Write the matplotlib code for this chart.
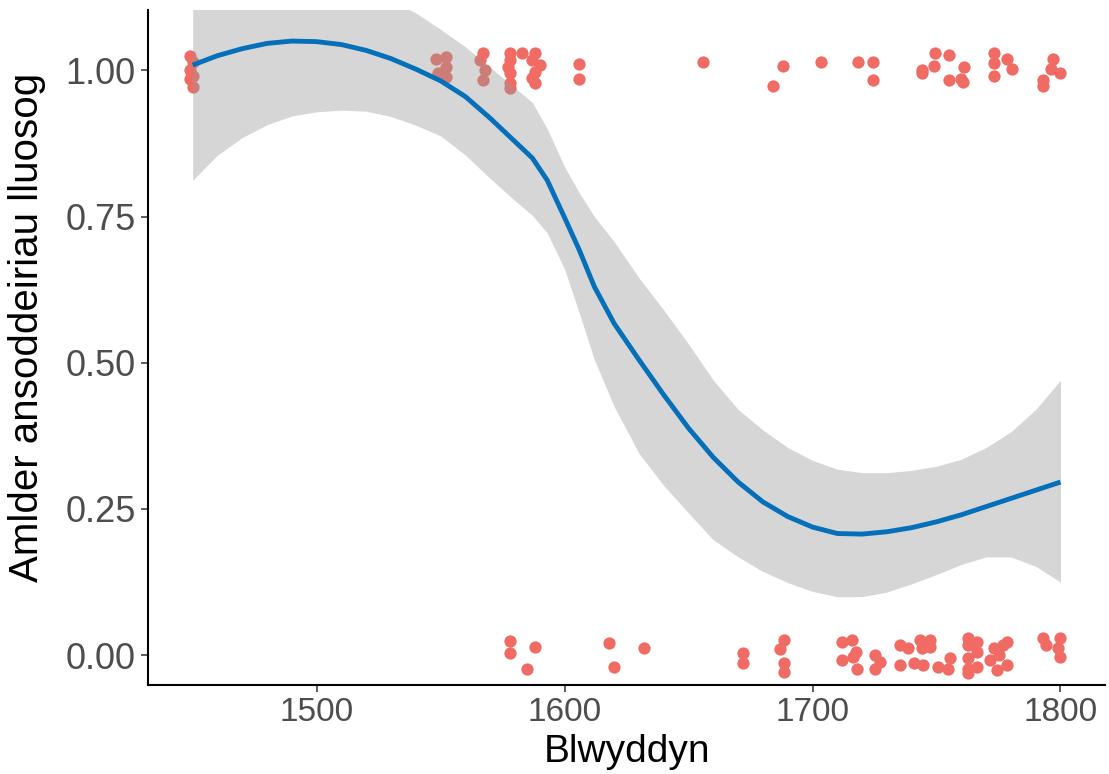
import numpy as np
import matplotlib
matplotlib.use('Agg')
import matplotlib.pyplot as plt

plt.rcParams['font.family'] = ['Liberation Sans', 'DejaVu Sans']

# loess fit
fit_year = [1450, 1460, 1470, 1480, 1490, 1500, 1510, 1520, 1530, 1540, 1550, 1560,
            1570, 1580, 1587, 1593, 1600, 1606, 1612, 1620, 1630, 1640, 1650, 1660,
            1670, 1680, 1690, 1700, 1710, 1720, 1730, 1740, 1750, 1760, 1770, 1780,
            1790, 1800]
fit_mid = [1.009, 1.025, 1.037, 1.046, 1.050, 1.049, 1.044, 1.034, 1.020, 1.002, 0.982, 0.955,
           0.918, 0.878, 0.850, 0.812, 0.748, 0.692, 0.630, 0.567, 0.505, 0.445, 0.388, 0.338,
           0.296, 0.262, 0.237, 0.219, 0.208, 0.207, 0.211, 0.218, 0.228, 0.240, 0.254, 0.268,
           0.282, 0.296]
fit_hi = [1.21, 1.205, 1.20, 1.19, 1.18, 1.17, 1.16, 1.14, 1.12, 1.098, 1.07, 1.04,
          1.005, 0.97, 0.945, 0.90, 0.835, 0.79, 0.75, 0.707, 0.645, 0.59, 0.532, 0.47,
          0.42, 0.385, 0.355, 0.333, 0.318, 0.312, 0.312, 0.316, 0.323, 0.335, 0.355, 0.382,
          0.42, 0.47]
fit_lo = [0.812, 0.855, 0.885, 0.907, 0.922, 0.929, 0.932, 0.930, 0.921, 0.906, 0.888, 0.855,
          0.815, 0.777, 0.752, 0.722, 0.66, 0.584, 0.505, 0.425, 0.345, 0.29, 0.243, 0.197,
          0.168, 0.143, 0.124, 0.109, 0.100, 0.100, 0.108, 0.122, 0.138, 0.155, 0.168, 0.168,
          0.152, 0.125]

# jittered observations (1 = lluosog, 0 = not)
top_year = [1449, 1450, 1449, 1450, 1449, 1450,
            1548, 1552, 1552, 1549, 1552,
            1567, 1566, 1568, 1567,
            1578, 1578, 1577, 1578, 1578, 1578, 1583,
            1588, 1587, 1590, 1588, 1587, 1588,
            1606, 1606, 1656, 1684, 1688, 1703.5, 1718.5, 1724.5, 1724.5,
            1744, 1744, 1749, 1749.5, 1755, 1755, 1761, 1760.5, 1760,
            1773, 1773, 1773, 1778.6, 1780.6, 1797, 1796, 1800, 1793, 1793]
top_val = [1.025, 1.015, 1.0, 0.99, 0.985, 0.972,
           1.020, 1.022, 1.005, 0.995, 0.988,
           1.029, 1.017, 1.0, 0.983,
           1.029, 1.017, 1.005, 0.995, 0.978, 0.969, 1.029,
           1.029, 1.017, 1.009, 0.997, 0.986, 0.978,
           1.010, 0.985, 1.014, 0.973, 1.007, 1.014, 1.014, 1.014, 0.983,
           1.0, 0.995, 1.007, 1.03, 1.026, 0.983, 1.005, 0.98, 0.985,
           1.03, 1.012, 0.99, 1.02, 1.002, 1.02, 1.003, 0.995, 0.983, 0.973]

bot_year = [1578, 1578, 1588, 1585, 1618, 1620, 1632, 1672, 1672,
            1688.4, 1687, 1688.4, 1688.4, 1711.8, 1715.8, 1711.8, 1716.5, 1718, 1725.3,
            1727.4, 1725.3, 1717.4, 1735.4, 1738.7, 1735.4, 1740.8, 1744.7, 1743.5,
            1747.5, 1744.3, 1747.5, 1750.8, 1755.6, 1754.8, 1762.5, 1762.5, 1762.5,
            1762.5, 1762.5, 1766.5, 1766.5, 1766.5, 1773, 1775, 1777, 1771.7, 1778.6,
            1774.5, 1778.6, 1792.8, 1794, 1800, 1799, 1800]
bot_val = [0.024, 0.003, 0.014, -0.024, 0.02, -0.02, 0.012, 0.003, -0.014,
           0.026, 0.011, -0.014, -0.028, 0.023, 0.026, -0.009, -0.003, -0.023, 0.0,
           -0.011, -0.023, 0.006, 0.017, 0.012, -0.017, -0.014, -0.017, 0.026,
           0.026, 0.012, 0.014, -0.02, -0.005, -0.023, 0.029, 0.017, -0.005,
           -0.023, -0.03, 0.022, 0.006, -0.02, 0.012, 0.0, 0.017, -0.009, -0.017,
           -0.026, 0.022, 0.029, 0.017, 0.029, 0.012, -0.003]

fig = plt.figure(figsize=(11.09, 7.74), dpi=100)
ax = fig.add_axes([0.1335, 0.115, 0.863, 0.872])

ax.scatter(top_year + bot_year, top_val + bot_val, s=78, color='#EF6B63',
           linewidths=0, zorder=1)
ax.fill_between(fit_year, fit_lo, fit_hi, color='#999999', alpha=0.4,
                linewidth=0, zorder=2)
ax.plot(fit_year, fit_mid, color='#0570B9', lw=3.5, zorder=3,
        solid_capstyle='butt')

ax.set_xlim(1432, 1818)
ax.set_ylim(-0.051, 1.103)
ax.set_xticks([1500, 1600, 1700, 1800])
ax.set_yticks([0, 0.25, 0.5, 0.75, 1.0])
ax.set_yticklabels(['0.00', '0.25', '0.50', '0.75', '1.00'])

for s in ['top', 'right']:
    ax.spines[s].set_visible(False)
for s in ['left', 'bottom']:
    ax.spines[s].set_linewidth(1.5)
    ax.spines[s].set_color('black')
ax.tick_params(length=5, width=1.1, color='#333333', labelcolor='#4D4D4D', pad=4)
ax.tick_params(axis='y', labelsize=26)
ax.tick_params(axis='x', labelsize=24)

ax.set_xlabel('Blwyddyn', fontsize=28, va='center')
ax.set_ylabel('Amlder ansoddeiriau lluosog', fontsize=29, va='center')
ax.xaxis.set_label_coords(0.5, -0.10)
ax.yaxis.set_label_coords(-0.127, 0.53)

fig.savefig('out.png', dpi=100)
